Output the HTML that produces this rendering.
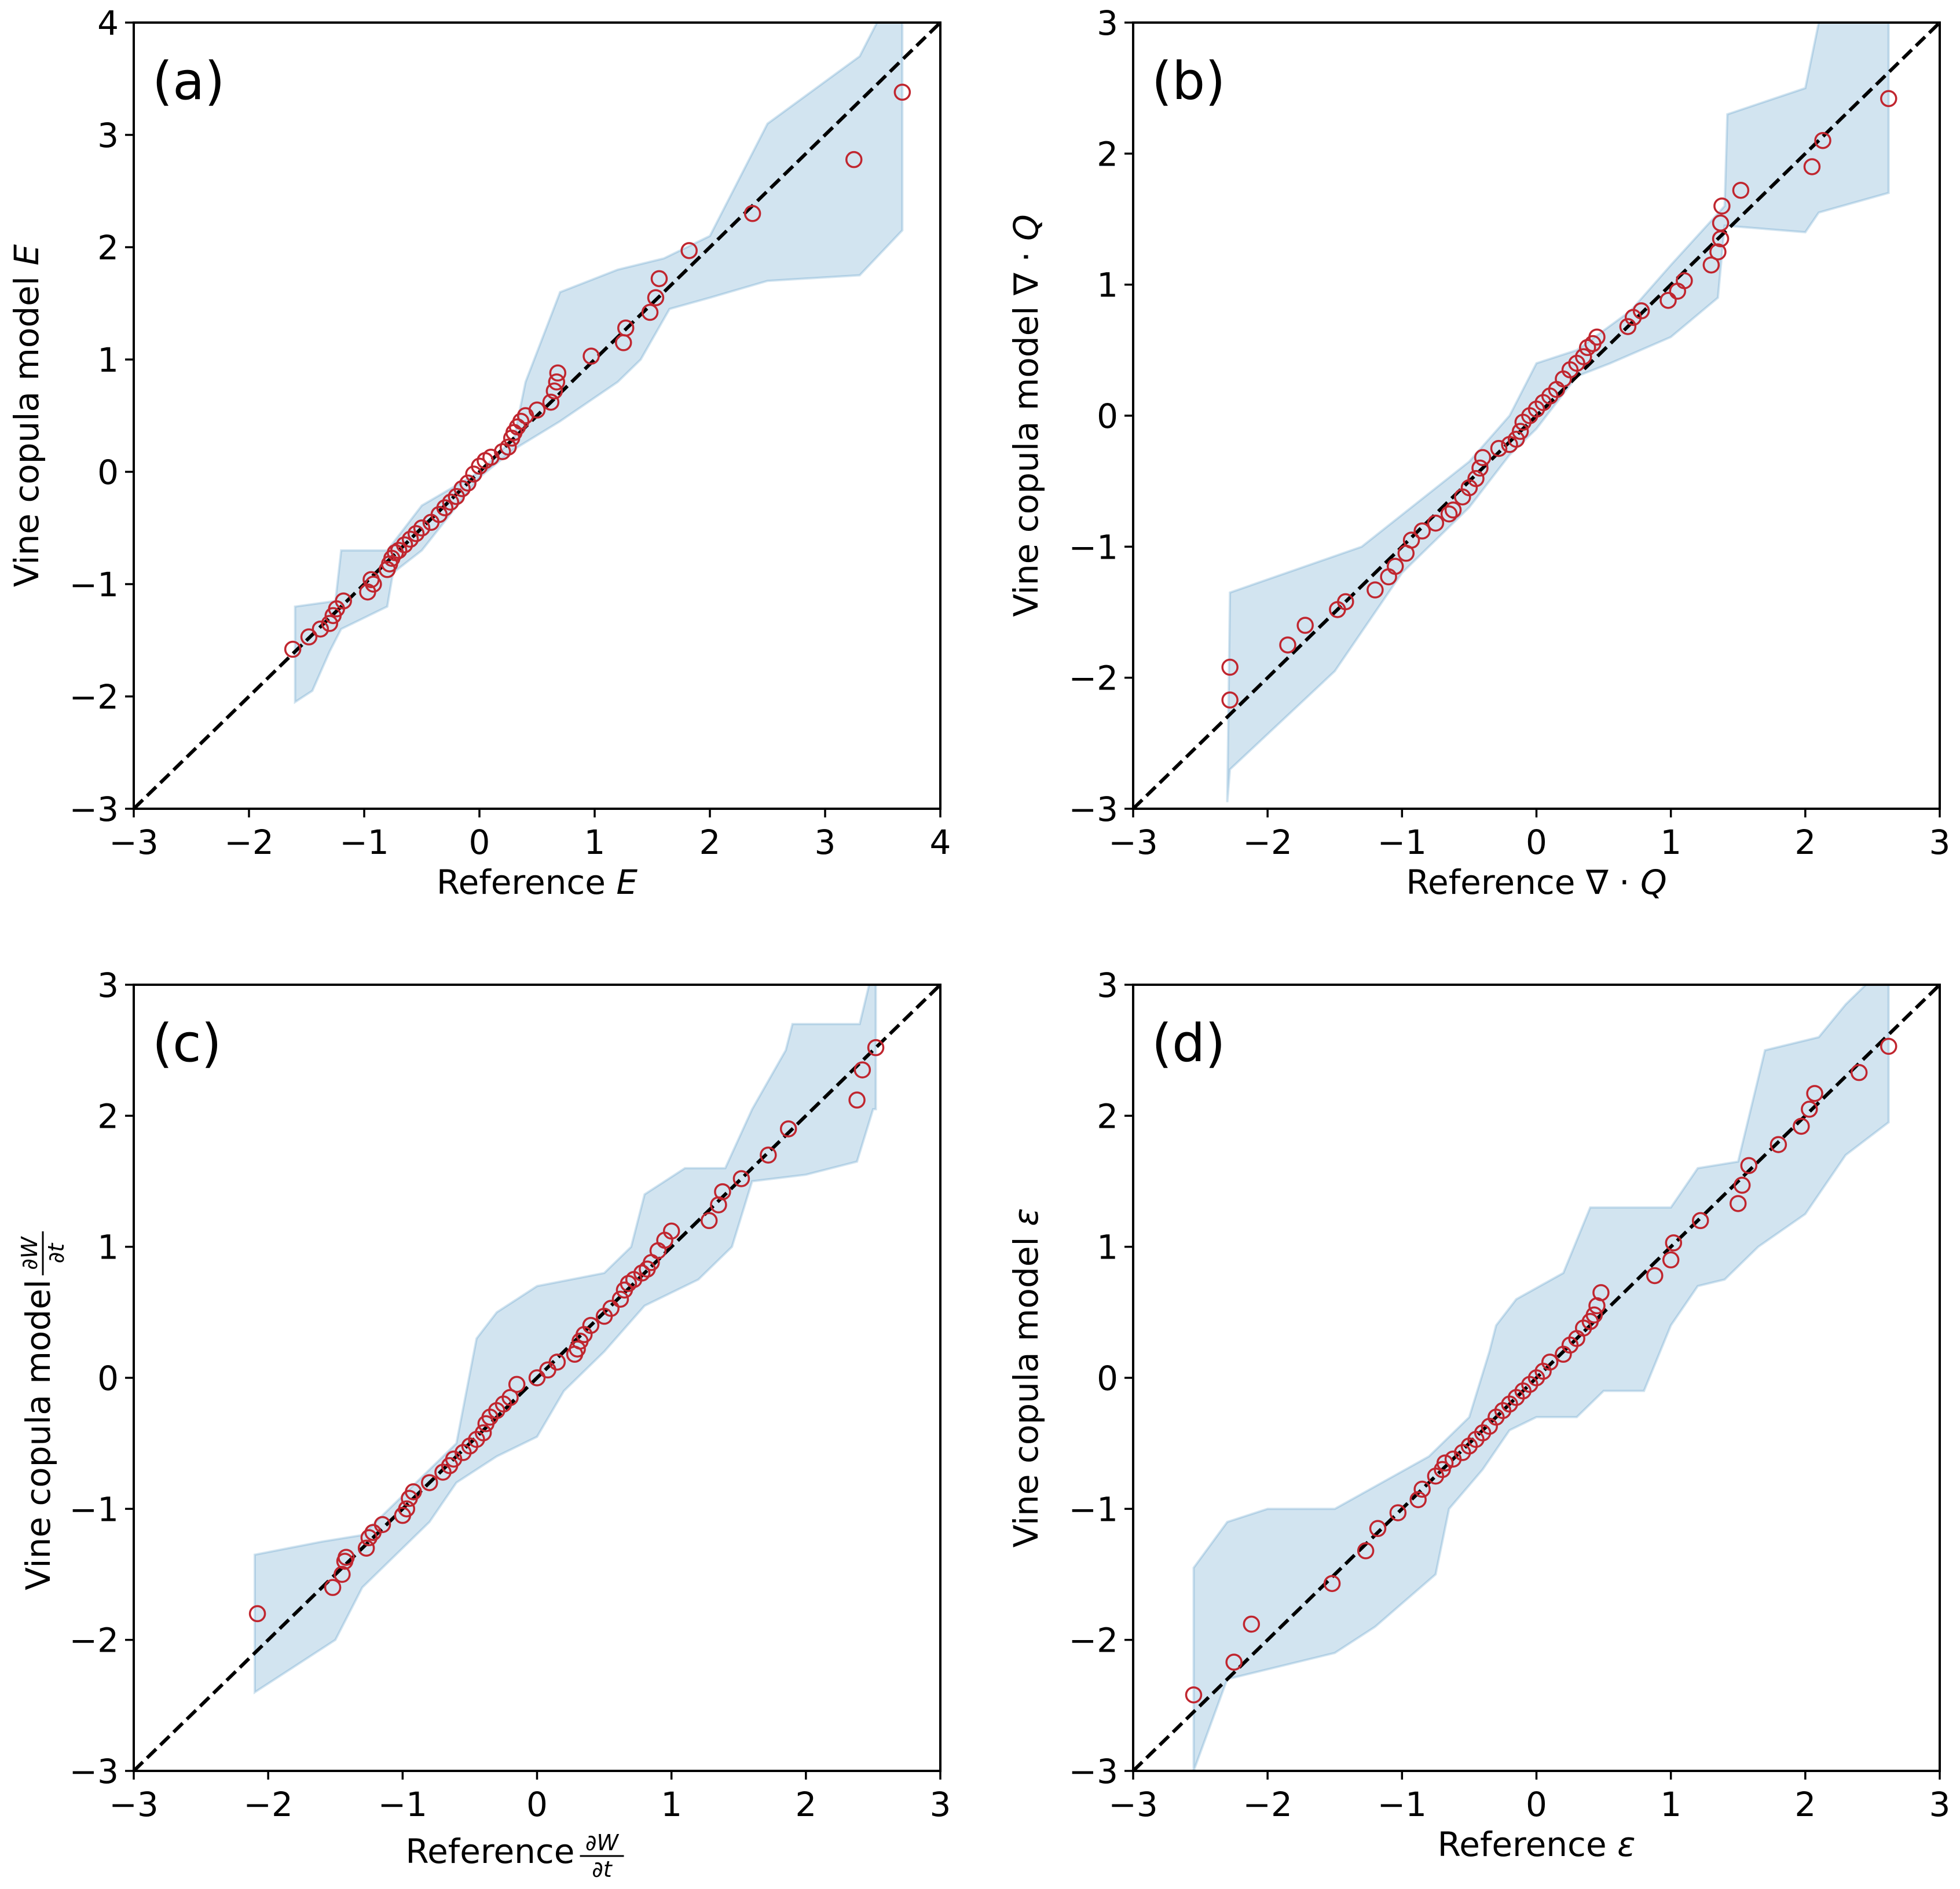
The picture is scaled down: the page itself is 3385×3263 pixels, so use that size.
<!DOCTYPE html>
<html><head><meta charset="utf-8"><style>
html,body{margin:0;padding:0;background:#fff;}
svg{display:block;font-family:"DejaVu Sans","Liberation Sans",sans-serif;}
</style></head><body>
<svg id="fig" width="3385" height="3263" viewBox="0 0 3385 3263" xmlns="http://www.w3.org/2000/svg"></svg>
<script>
// Panel (a)
const aPts=[[-1.62,-1.58],[-1.48,-1.47],[-1.38,-1.4],[-1.3,-1.35],[-1.27,-1.28],[-1.24,-1.22],[-1.18,-1.15],[-0.97,-1.07],[-0.94,-0.96],[-0.92,-1.0],[-0.8,-0.87],[-0.78,-0.82],[-0.76,-0.77],[-0.73,-0.72],[-0.7,-0.7],[-0.65,-0.65],[-0.6,-0.6],[-0.55,-0.55],[-0.5,-0.5],[-0.42,-0.45],[-0.35,-0.38],[-0.3,-0.32],[-0.25,-0.27],[-0.2,-0.22],[-0.15,-0.15],[-0.1,-0.1],[-0.05,-0.02],[0,0.05],[0.05,0.1],[0.1,0.13],[0.2,0.18],[0.25,0.22],[0.28,0.3],[0.3,0.35],[0.33,0.4],[0.36,0.45],[0.4,0.5],[0.5,0.55],[0.62,0.62],[0.65,0.72],[0.67,0.8],[0.68,0.88],[0.97,1.03],[1.25,1.15],[1.27,1.28],[1.48,1.42],[1.53,1.55],[1.56,1.72],[1.82,1.97],[2.37,2.3],[3.25,2.78],[3.67,3.38]];
const aUpper=[[-1.6,-1.2],[-1.25,-1.15],[-1.2,-0.7],[-0.8,-0.7],[-0.5,-0.3],[0,0],[0.3,0.3],[0.4,0.8],[0.7,1.6],[1.2,1.8],[1.6,1.9],[2.0,2.1],[2.5,3.1],[3.3,3.7],[3.45,4.0],[3.67,4.0]];
const aLower=[[-1.6,-2.05],[-1.45,-1.95],[-1.3,-1.6],[-1.2,-1.4],[-0.8,-1.2],[-0.75,-0.9],[-0.5,-0.7],[0,-0.05],[0.3,0.2],[0.7,0.45],[1.2,0.8],[1.4,1.0],[1.65,1.45],[2.0,1.55],[2.5,1.7],[3.3,1.75],[3.67,2.15]];
// Panel (b)
const bPts=[[-2.28,-1.92],[-2.28,-2.17],[-1.85,-1.75],[-1.72,-1.6],[-1.48,-1.48],[-1.42,-1.42],[-1.2,-1.33],[-1.1,-1.23],[-1.05,-1.15],[-0.97,-1.05],[-0.93,-0.95],[-0.85,-0.88],[-0.75,-0.82],[-0.65,-0.75],[-0.62,-0.72],[-0.55,-0.62],[-0.5,-0.55],[-0.45,-0.48],[-0.42,-0.4],[-0.4,-0.32],[-0.28,-0.25],[-0.2,-0.22],[-0.15,-0.18],[-0.12,-0.12],[-0.1,-0.05],[-0.05,0],[0,0.05],[0.05,0.1],[0.1,0.15],[0.15,0.2],[0.2,0.28],[0.25,0.35],[0.3,0.4],[0.35,0.45],[0.38,0.52],[0.42,0.55],[0.45,0.6],[0.68,0.68],[0.72,0.75],[0.78,0.8],[0.98,0.88],[1.05,0.95],[1.1,1.03],[1.3,1.15],[1.35,1.25],[1.37,1.35],[1.37,1.47],[1.38,1.6],[1.52,1.72],[2.05,1.9],[2.13,2.1],[2.62,2.42]];
const bUpper=[[-2.28,-1.35],[-1.3,-1.0],[-0.5,-0.35],[-0.2,0],[0,0.4],[0.3,0.5],[0.7,0.8],[1.0,1.15],[1.4,1.6],[1.42,2.3],[2.0,2.5],[2.1,3.0],[2.62,3.0]];
const bLower=[[-2.3,-2.95],[-2.28,-2.7],[-1.5,-1.95],[-1.0,-1.2],[-0.5,-0.7],[-0.2,-0.3],[0,-0.1],[0.3,0.3],[0.55,0.4],[1.0,0.6],[1.35,0.9],[1.4,1.45],[2.0,1.4],[2.1,1.55],[2.62,1.7]];
// Panel (c)
const cPts=[[-2.08,-1.8],[-1.52,-1.6],[-1.45,-1.5],[-1.43,-1.4],[-1.42,-1.37],[-1.27,-1.3],[-1.25,-1.22],[-1.22,-1.18],[-1.15,-1.12],[-1.0,-1.05],[-0.97,-1.0],[-0.95,-0.92],[-0.92,-0.87],[-0.8,-0.8],[-0.7,-0.72],[-0.65,-0.67],[-0.62,-0.62],[-0.55,-0.57],[-0.5,-0.52],[-0.45,-0.47],[-0.4,-0.42],[-0.38,-0.35],[-0.35,-0.3],[-0.3,-0.25],[-0.25,-0.2],[-0.2,-0.15],[-0.15,-0.05],[0,0],[0.08,0.06],[0.15,0.12],[0.28,0.18],[0.3,0.22],[0.32,0.28],[0.35,0.33],[0.4,0.4],[0.5,0.47],[0.55,0.53],[0.62,0.6],[0.65,0.67],[0.68,0.72],[0.72,0.75],[0.78,0.8],[0.82,0.83],[0.85,0.88],[0.9,0.97],[0.95,1.05],[1.0,1.12],[1.28,1.2],[1.35,1.32],[1.38,1.42],[1.52,1.52],[1.72,1.7],[1.87,1.9],[2.38,2.12],[2.42,2.35],[2.52,2.52]];
const cUpper=[[-2.1,-1.35],[-1.6,-1.25],[-1.3,-1.2],[-1.0,-0.9],[-0.6,-0.5],[-0.45,0.3],[-0.3,0.5],[0,0.7],[0.5,0.8],[0.7,1.0],[0.8,1.4],[1.1,1.6],[1.4,1.6],[1.6,2.05],[1.85,2.5],[1.9,2.7],[2.4,2.7],[2.47,3.0],[2.52,3.0]];
const cLower=[[-2.1,-2.4],[-1.5,-2.0],[-1.3,-1.6],[-0.8,-1.1],[-0.6,-0.8],[-0.3,-0.6],[0,-0.45],[0.2,-0.1],[0.5,0.2],[0.8,0.55],[1.2,0.75],[1.45,1.0],[1.6,1.5],[2.0,1.55],[2.38,1.65],[2.5,2.05],[2.52,2.05]];
// Panel (d)
const dPts=[[-2.55,-2.42],[-2.25,-2.17],[-2.12,-1.88],[-1.52,-1.57],[-1.27,-1.32],[-1.18,-1.15],[-1.03,-1.03],[-0.88,-0.93],[-0.85,-0.85],[-0.75,-0.75],[-0.7,-0.7],[-0.68,-0.65],[-0.62,-0.62],[-0.55,-0.57],[-0.5,-0.52],[-0.45,-0.47],[-0.4,-0.42],[-0.35,-0.37],[-0.3,-0.3],[-0.25,-0.25],[-0.2,-0.2],[-0.15,-0.15],[-0.1,-0.1],[-0.05,-0.05],[0,0],[0.05,0.05],[0.1,0.12],[0.2,0.18],[0.25,0.25],[0.3,0.3],[0.35,0.38],[0.4,0.43],[0.43,0.48],[0.45,0.55],[0.48,0.65],[0.88,0.78],[1.0,0.9],[1.02,1.03],[1.22,1.2],[1.5,1.33],[1.53,1.47],[1.58,1.62],[1.8,1.78],[1.97,1.92],[2.03,2.05],[2.07,2.17],[2.4,2.33],[2.62,2.53]];
const dUpper=[[-2.55,-1.45],[-2.3,-1.1],[-2.0,-1.0],[-1.5,-1.0],[-0.8,-0.6],[-0.5,-0.3],[-0.35,0.2],[-0.3,0.4],[-0.15,0.6],[0.2,0.8],[0.4,1.3],[0.5,1.3],[1.0,1.3],[1.2,1.6],[1.5,1.65],[1.7,2.5],[2.1,2.6],[2.3,2.85],[2.45,3.0],[2.62,3.0]];
const dLower=[[-2.55,-3.0],[-2.3,-2.3],[-1.5,-2.1],[-1.2,-1.9],[-0.75,-1.5],[-0.65,-1.0],[-0.4,-0.7],[-0.2,-0.4],[0,-0.3],[0.3,-0.3],[0.5,-0.1],[0.8,-0.1],[1.0,0.4],[1.2,0.7],[1.4,0.75],[1.65,1.0],[2.0,1.25],[2.3,1.7],[2.62,1.95]];
const aTicks=[-3,-2,-1,0,1,2,3,4];
const bTicks=[-3,-2,-1,0,1,2,3];

const NS="http://www.w3.org/2000/svg";
const svg=document.getElementById('fig');
function mk(tag,attrs,parent){const e=document.createElementNS(NS,tag);for(const k in attrs)e.setAttribute(k,attrs[k]);(parent||svg).appendChild(e);return e;}

const panels=[
 {id:'a',L:231,T:39,W:1393,H:1358,min:-3,max:4,ticks:aTicks,pts:aPts,up:aUpper,lo:aLower,lab:'E',fr:false},
 {id:'b',L:1957,T:39,W:1393,H:1358,min:-3,max:3,ticks:bTicks,pts:bPts,up:bUpper,lo:bLower,lab:'∇ · Q',fr:false},
 {id:'c',L:231,T:1701,W:1393,H:1358,min:-3,max:3,ticks:bTicks,pts:cPts,up:cUpper,lo:cLower,lab:'',fr:true},
 {id:'d',L:1957,T:1701,W:1393,H:1358,min:-3,max:3,ticks:bTicks,pts:dPts,up:dUpper,lo:dLower,lab:'ε',fr:false}
];
panels.forEach(p=>{
 const g=mk('g',{});
 
 
 const sx=v=>p.L+(v-p.min)/(p.max-p.min)*p.W;
 const sy=v=>p.T+p.H-(v-p.min)/(p.max-p.min)*p.H;
 const cp=mk('clipPath',{id:'clip'+p.id},g);
 mk('rect',{x:p.L,y:p.T,width:p.W,height:p.H},cp);
 const pg=mk('g',{'clip-path':'url(#clip'+p.id+')'},g);
 let d='M'+p.up.map(q=>sx(q[0])+','+sy(q[1])).join(' L');
 d+=' L'+p.lo.slice().reverse().map(q=>sx(q[0])+','+sy(q[1])).join(' L')+' Z';
 const band=mk('path',{d:d,fill:'rgba(31,119,180,0.2)',stroke:'rgba(31,119,180,0.2)','stroke-width':4},pg);
 
 
 const ln=mk('line',{x1:sx(p.min),y1:sy(p.min),x2:sx(p.max),y2:sy(p.max),stroke:'#000','stroke-width':6,'stroke-dasharray':'22,10'},pg);
 
 
 p.pts.forEach(q=>{
  const c=mk('circle',{cx:sx(q[0]),cy:sy(q[1]),r:13,fill:'none',stroke:'#c0262f','stroke-width':3.5},pg);
  
  
 });
 const fr=mk('rect',{x:p.L,y:p.T,width:p.W,height:p.H,fill:'none',stroke:'#000','stroke-width':4},g);
 
 
 p.ticks.forEach(t=>{
  mk('line',{x1:sx(t),y1:p.T+p.H,x2:sx(t),y2:p.T+p.H+15,stroke:'#000','stroke-width':3.5},g);
  mk('line',{x1:p.L-15,y1:sy(t),x2:p.L,y2:sy(t),stroke:'#000','stroke-width':3.5},g);
  const s=(t<0?'−':'')+Math.abs(t);
  const xt=mk('text',{x:sx(t),y:p.T+p.H+78,'font-size':58,'text-anchor':'middle'},g);xt.textContent=s;
  
  
  const yt=mk('text',{x:p.L-26,y:sy(t)+21,'font-size':58,'text-anchor':'end'},g);yt.textContent=s;
  
  
 });
 const pl=mk('text',{x:p.L+32,y:p.T+132,'font-size':90},g);pl.textContent='('+p.id+')';
 
 
 const cx=p.L+p.W/2, cy=p.T+p.H/2, ylx=p.L-165;
 const xly=p.T+p.H+147;
 if(p.fr){
  const xl=mk('text',{x:cx+65,y:xly+12,'font-size':58,'text-anchor':'end'},g);
  
  
  xl.textContent='Reference';
  const fx=cx+112;
  const xn=mk('text',{x:fx,y:xly-10,'font-size':38,'text-anchor':'middle'},g);xn.innerHTML='∂<tspan font-style="italic">W</tspan>';
  mk('line',{x1:fx-38,y1:xly,x2:fx+38,y2:xly,stroke:'#000','stroke-width':3},g);
  const xb=mk('text',{x:fx,y:xly+36,'font-size':38,'text-anchor':'middle'},g);xb.innerHTML='∂<tspan font-style="italic">t</tspan>';
  const yg=mk('g',{transform:'rotate(-90 '+ylx+' '+cy+')'},g);
  const yl=mk('text',{x:ylx+170,y:cy+20,'font-size':58,'text-anchor':'end'},yg);
  
  
  yl.textContent='Vine copula model';
  const fy=ylx+215;
  const yn=mk('text',{x:fy,y:cy-2,'font-size':38,'text-anchor':'middle'},yg);yn.innerHTML='∂<tspan font-style="italic">W</tspan>';
  mk('line',{x1:fy-38,y1:cy+8,x2:fy+38,y2:cy+8,stroke:'#000','stroke-width':3},yg);
  const yb=mk('text',{x:fy,y:cy+44,'font-size':38,'text-anchor':'middle'},yg);yb.innerHTML='∂<tspan font-style="italic">t</tspan>';
 } else {
  const xl=mk('text',{x:cx,y:xly,'font-size':58,'text-anchor':'middle'},g);
  
  
  const yl=mk('text',{x:ylx,y:cy,'font-size':58,'text-anchor':'middle',transform:'rotate(-90 '+ylx+' '+cy+')'},g);
  
  
  if(p.id==='b'){
   xl.innerHTML='Reference ∇ · <tspan font-style="italic">Q</tspan>';
   yl.innerHTML='Vine copula model ∇ · <tspan font-style="italic">Q</tspan>';
  } else {
   xl.innerHTML='Reference <tspan font-style="italic">'+p.lab+'</tspan>';
   yl.innerHTML='Vine copula model <tspan font-style="italic">'+p.lab+'</tspan>';
  }
 }
});
</script>
</body></html>
